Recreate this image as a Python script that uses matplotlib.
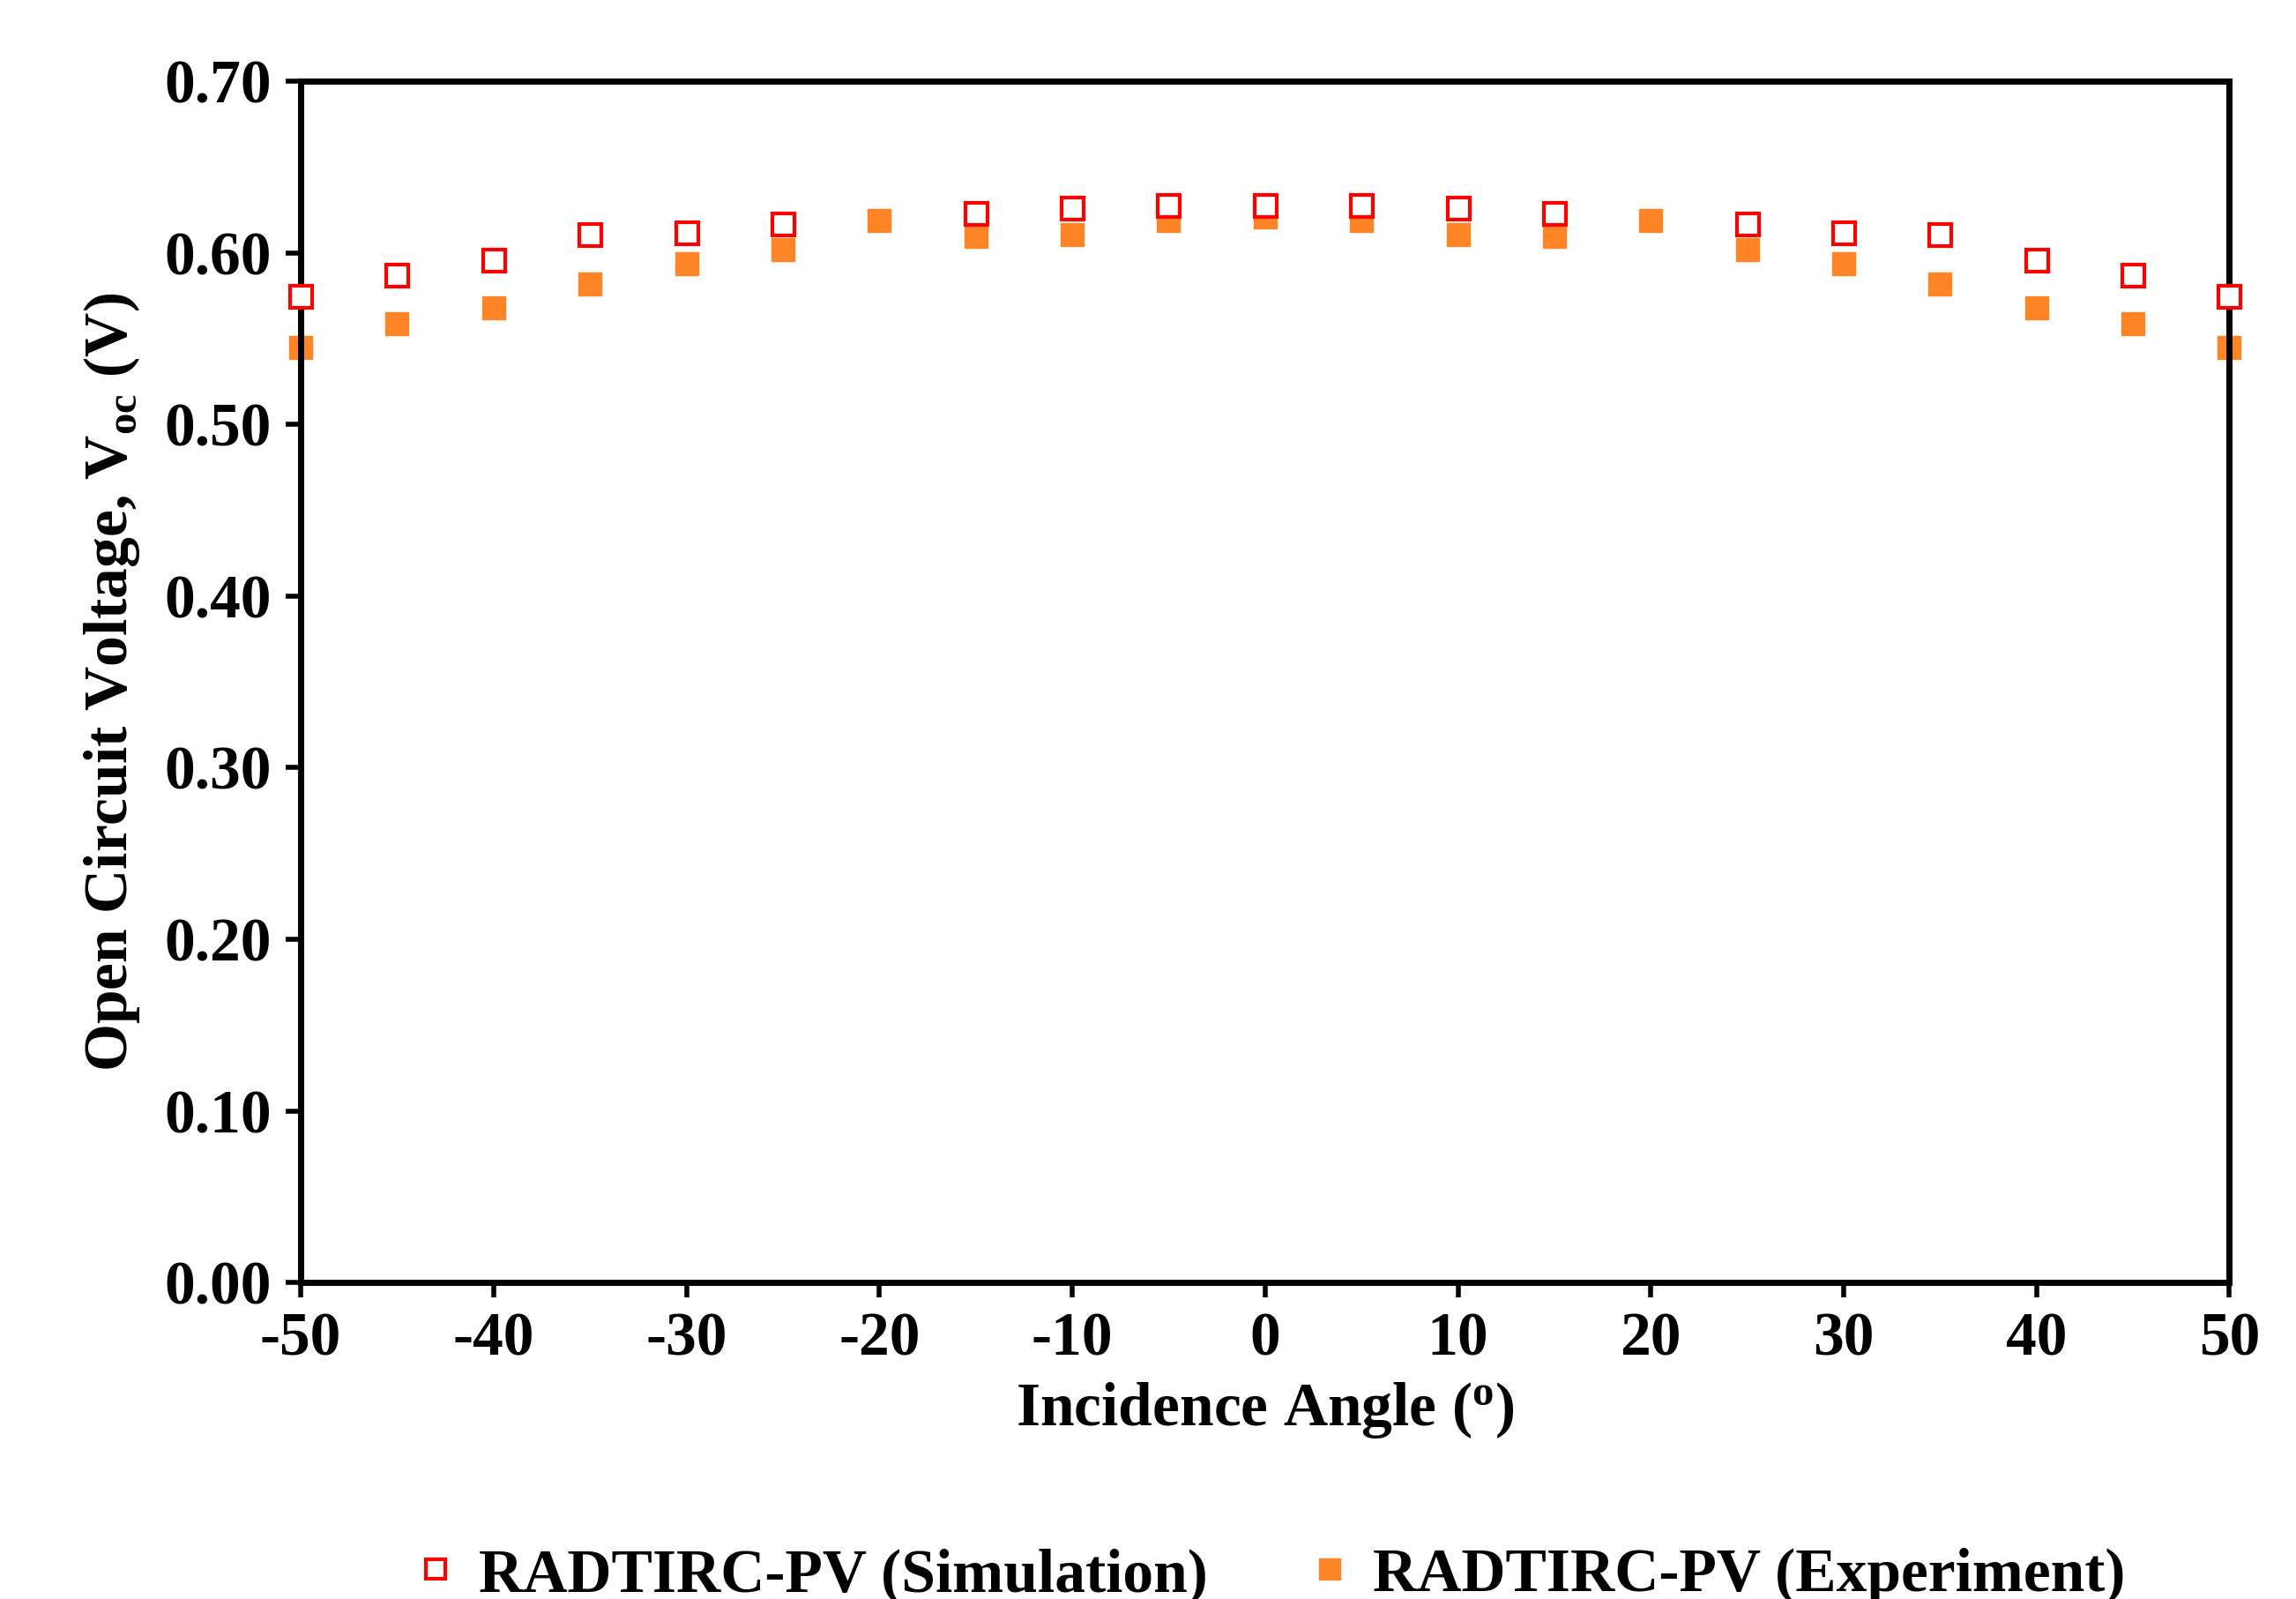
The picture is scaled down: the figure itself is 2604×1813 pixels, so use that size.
import matplotlib
matplotlib.use("Agg")
import matplotlib.pyplot as plt
import numpy as np

angles = [-50,-45,-40,-35,-30,-25,-20,-15,-10,-5,0,5,10,15,20,25,30,35,40,45,50]
sim = [0.575,0.587,0.596,0.611,0.612,0.617,np.nan,0.623,0.626,0.628,0.628,0.628,0.626,0.623,np.nan,0.617,0.612,0.611,0.596,0.587,0.575]
exp_ = [0.545,0.559,0.568,0.582,0.594,0.602,0.619,0.610,0.611,0.619,0.621,0.619,0.611,0.610,0.619,0.602,0.594,0.582,0.568,0.559,0.545]

plt.rcParams['font.family'] = ['Liberation Serif']
plt.rcParams['font.weight'] = 'bold'
plt.rcParams['axes.unicode_minus'] = False
fig = plt.figure(figsize=(26.04, 18.13), dpi=100)
ax = fig.add_axes([0.131, 0.198, 0.840, 0.751])
ax.plot(angles, sim, ls='none', marker='s', ms=18, mfc='white', mec='#FF0000', mew=3, label='RADTIRC-PV (Simulation)', clip_on=False, zorder=3)
ax.plot(angles, exp_, ls='none', marker='s', ms=19, color='#FF8426', label='RADTIRC-PV (Experiment)', clip_on=False, zorder=2)
ax.set_xlim(-50, 50)
ax.set_ylim(0, 0.70)
ax.set_xticks(np.arange(-50, 51, 10))
ax.set_yticks(np.arange(0, 0.71, 0.1))
ax.set_yticklabels([f"{v:.2f}" for v in np.arange(0, 0.71, 0.1)])
for s in ax.spines.values():
    s.set_linewidth(5)
ax.tick_params(axis='both', labelsize=50, width=4, length=12, direction='out', pad=12)
ax.set_xlabel('Incidence Angle ($\\mathregular{^o}$)', fontsize=50, fontweight='bold', labelpad=10)
ax.set_ylabel('Open Circuit Voltage, V$_{\\mathregular{oc}}$ (V)', fontsize=50, fontweight='bold', labelpad=18)
ax.legend(loc='upper center', bbox_to_anchor=(0.5, -0.175), ncol=2, frameon=False, fontsize=50,
          handletextpad=0.2, columnspacing=1.5, markerscale=0.9, numpoints=1, handlelength=1.0)
fig.savefig('out.png', dpi=100)
